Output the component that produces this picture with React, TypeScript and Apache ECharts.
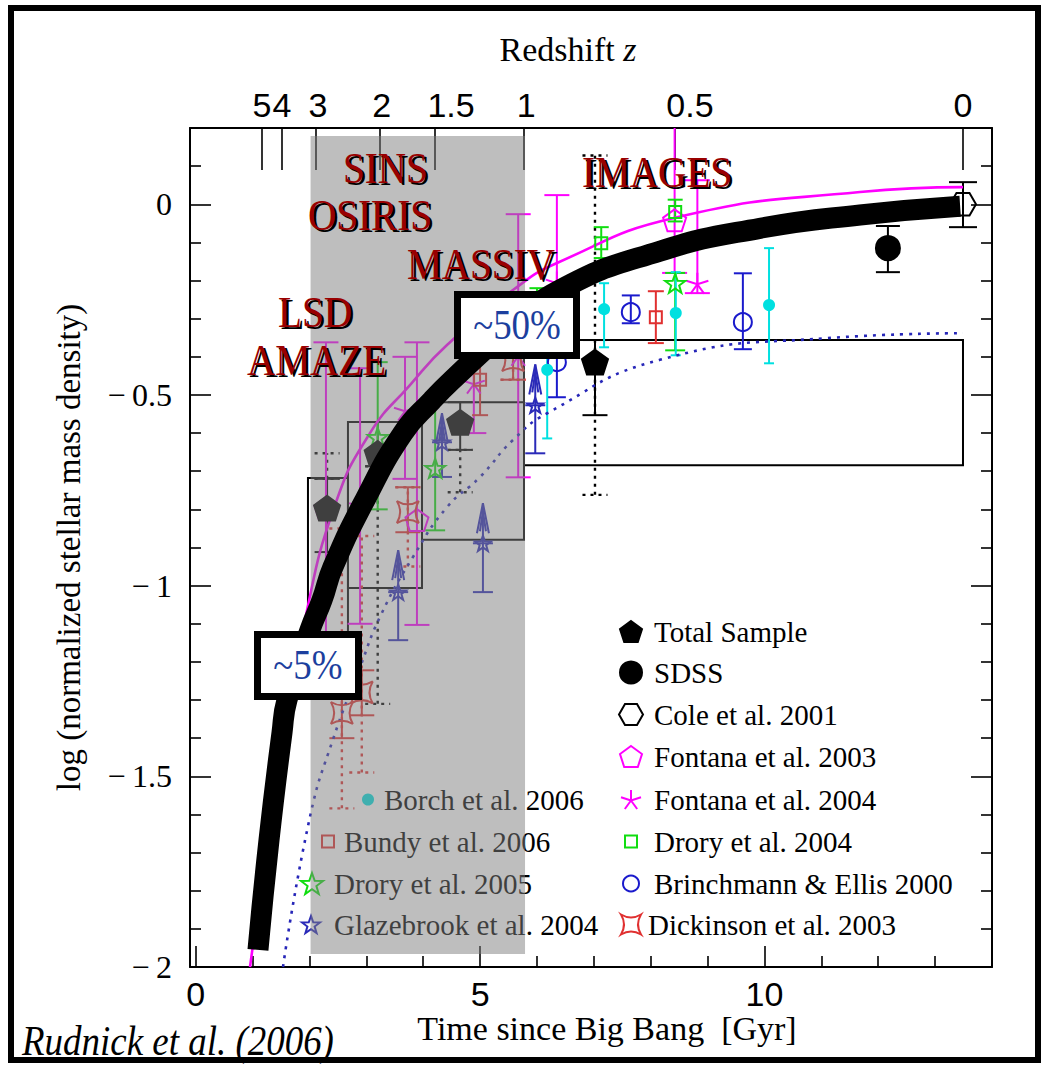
import { useEffect, useRef } from "react";
import * as echarts from "echarts";

// ---- axis ranges and ticks ----
const TIME_MIN = -0.1;
const TIME_MAX = 14;
const LOG_MIN = -2;
const LOG_MAX = 0.2;

const timeMajorTicks = [0, 5, 10];
const timeMinorTicks = [1, 2, 3, 4, 6, 7, 8, 9, 11, 12, 13];
const logMajorTicks = [-2, -1.5, -1, -0.5, 0];
const logMinorTicks = [-1.9, -1.8, -1.7, -1.6, -1.4, -1.3, -1.2, -1.1, -0.9, -0.8, -0.7, -0.6, -0.4, -0.3, -0.2, -0.1, 0.1];

// redshift scale along the top (positions in Gyr since the Big Bang)
const redshiftTickTimes = [1.166, 1.517, 2.115, 3.24, 4.21, 5.77, 8.43, 13.49];
const redshiftLabelTimes = [1.166, 1.517, 2.15, 3.27, 4.49, 5.81, 8.69, 13.49];
const redshiftLabels = ["5", "4", "3", "2", "1.5", "1", "0.5", "0"];

// ---- total sample ----
const totalTime = [2.31, 3.2, 4.65, 7.02];
const totalLogRho = [-0.797, -0.653, -0.572, -0.414];
const totalErrLo = [-0.912, -0.687, -0.644, -0.553];
const totalErrHi = [-0.72, -0.571, -0.519, -0.356];
const totalSysLo = [-0.72, -1.31, -0.755, -0.762];
const totalSysHi = [-0.653, -0.687, -0.644, 0.128];

// time bins of the total sample
const binStart = [1.974, 2.677, 3.979, 5.772];
const binEnd = [2.677, 3.979, 5.772, 13.49];
const binLo = [-1.21, -1.006, -0.88, -0.684];
const binHi = [-0.718, -0.571, -0.519, -0.356];

// ---- literature ----
const sdssTime = [12.17];
const sdssLogRho = [-0.115];
const sdssLo = [-0.178];
const sdssHi = [-0.057];

const coleTime = [13.49];
const coleLogRho = [0];
const coleLo = [-0.06];
const coleHi = [0.058];

const fontana03Time = [2.29, 3.89, 8.42];
const fontana03LogRho = [-0.797, -0.828, -0.042];
const fontana03Lo = [-1.25, -1.103, -0.18];
const fontana03Hi = [-0.362, -0.362, 0.45];

const fontana04Time = [2.89, 3.68, 4.89, 5.67, 6.35, 8.82];
const fontana04LogRho = [-0.79, -0.54, -0.469, -0.396, -0.204, -0.207];
const fontana04Lo = [-1.1, -0.72, -0.6, -0.716, -0.225, -0.233];
const fontana04Hi = [-0.43, -0.4, -0.3, -0.026, 0.024, 0.063];

const drory04Time = [6.0, 7.13, 8.43];
const drory04LogRho = [-0.27, -0.102, -0.02];
const drory04Lo = [-0.33, -0.141, -0.045];
const drory04Hi = [-0.22, -0.06, 0.012];

const drory05Time = [3.2, 4.21, 8.43];
const drory05LogRho = [-0.611, -0.692, -0.207];
const drory05Lo = [-0.8, -0.855, -0.383];
const drory05Hi = [-0.414, -0.505, -0.18];

const brinchmannTime = [6.35, 7.65, 9.62];
const brinchmannLogRho = [-0.414, -0.283, -0.309];
const brinchmannLo = [-0.506, -0.312, -0.38];
const brinchmannHi = [-0.33, -0.239, -0.181];

const bundyTime = [5.0, 8.09];
const bundyLogRho = [-0.46, -0.296];
const bundyLo = [-0.553, -0.364];
const bundyHi = [-0.37, -0.228];

const borchTime = [6.18, 7.18, 8.44, 10.08];
const borchLogRho = [-0.434, -0.275, -0.285, -0.264];
const borchLo = [-0.614, -0.375, -0.396, -0.417];
const borchHi = [-0.36, -0.207, -0.178, -0.115];

const glazebrookTime = [3.56, 4.33, 5.05, 5.97];
const glazebrookLogRho = [-1.017, -0.624, -0.889, -0.527];
const glazebrookLo = [-1.143, -0.715, -1.017, -0.653];
const glazebrookArrowTip = [-0.907, -0.548, -0.784, -0.42];

const dickinsonTime = [2.57, 2.92, 3.73, 5.58];
const dickinsonLogRho = [-1.334, -1.28, -0.807, -0.409];
const dickinsonLo = [-1.4, -1.34, -0.86, -0.46];
const dickinsonHi = [-1.28, -1.222, -0.742, -0.36];
const dickinsonSysLo = [-1.584, -1.49, -0.95, -0.46];
const dickinsonSysHi = [-0.85, -0.87, -0.742, -0.36];

// ---- model curves ----
const growthTime = [1.095, 1.289, 1.517, 1.605, 2.01, 2.22, 2.414, 2.977, 3.644, 4.155, 4.507, 5.4, 6.4, 8.16, 9.92, 11.68, 13.44];
const growthLogRho = [-1.955, -1.667, -1.386, -1.3, -1.116, -1.038, -0.951, -0.775, -0.6, -0.514, -0.461, -0.34, -0.225, -0.123, -0.063, -0.028, -0.005];

const fontanaModelTime = [0.955, 1.271, 1.57, 1.921, 2.449, 3.064, 3.767, 4.418, 5.578, 6.352, 8.462, 11.68, 13.49];
const fontanaModelLogRho = [-2.0, -1.667, -1.391, -1.09, -0.789, -0.6, -0.474, -0.369, -0.225, -0.154, -0.034, 0.032, 0.045];

const dottedModelTime = [1.535, 2.01, 2.41, 2.89, 3.24, 3.82, 4.42, 5.0, 5.58, 6.18, 8.16, 11.1, 13.49];
const dottedModelLogRho = [-2.0, -1.606, -1.405, -1.214, -1.082, -0.925, -0.794, -0.715, -0.618, -0.548, -0.408, -0.351, -0.338];

// shaded epoch covered by the IFU surveys
const shadedEpoch = [2.02, 5.79, -1.966, 0.179];

// ---- marker shapes ----
const PENTAGON = "path://M0,-10 L9.51,-3.09 L5.88,8.09 L-5.88,8.09 L-9.51,-3.09 Z";
const HEXAGON = "path://M-10,0 L-5,-8.66 L5,-8.66 L10,0 L5,8.66 L-5,8.66 Z";
const STAR = "path://M0,-10 L2.351,-3.236 L9.511,-3.09 L3.804,1.236 L5.878,8.09 L0,4 L-5.878,8.09 L-3.804,1.236 L-9.511,-3.09 L-2.351,-3.236 Z";
const ASTERISK = "path://M0,0 L0,-10 M0,0 L9.51,-3.09 M0,0 L5.88,8.09 M0,0 L-5.88,8.09 M0,0 L-9.51,-3.09";
const CUSP_SQUARE = "path://M-10,-10 Q0,-4 10,-10 Q4,0 10,10 Q0,4 -10,10 Q-4,0 -10,-10 Z";

const OPEN = "rgba(0,0,0,0)";
const MAGENTA = "#ff00ff";
const GREEN = "#11dd11";
const BLUE = "#1a1acc";
const RED = "#e03030";
const CYAN = "#00e0e0";

const SERIF = "'Liberation Serif', 'Times New Roman', serif";
const TICK_FONT = "'Liberation Sans', Arial, sans-serif";

const pairs = (xs: number[], ys: number[]) => xs.map((x, i) => [x, ys[i]]);
const triples = (xs: number[], a: number[], b: number[]) => xs.map((x, i) => [x, a[i], b[i]]);

function errorBars(id: string, data: number[][], color: string, cap: number, dashed = false, z = 2) {
  return {
    type: "custom",
    id,
    name: id,
    z,
    clip: true,
    silent: true,
    data,
    encode: { x: 0, y: [1, 2] },
    renderItem: (_p: any, api: any) => {
      const lo = api.coord([api.value(0), api.value(1)]);
      const hi = api.coord([api.value(0), api.value(2)]);
      const h = cap / 2;
      const style: any = { stroke: color, lineWidth: dashed ? 2.4 : 2, fill: null };
      if (dashed) style.lineDash = [3, 5];
      return {
        type: "group",
        children: [
          { type: "line", shape: { x1: lo[0], y1: lo[1], x2: hi[0], y2: hi[1] }, style },
          { type: "line", shape: { x1: lo[0] - h, y1: lo[1], x2: lo[0] + h, y2: lo[1] }, style },
          { type: "line", shape: { x1: hi[0] - h, y1: hi[1], x2: hi[0] + h, y2: hi[1] }, style },
        ],
      };
    },
  };
}

function markers(name: string, data: number[][], symbol: string, size: number, fill: string, stroke: string, z = 3) {
  return {
    type: "scatter",
    name,
    data,
    symbol,
    symbolSize: size,
    symbolKeepAspect: true,
    z,
    silent: true,
    itemStyle: { color: fill, borderColor: stroke, borderWidth: 2, opacity: 1 },
  };
}

// legend placement (icon centre, text start, row centre, icon size)
const legendLayout = [
  { name: "Total Sample", cx: 630, tx: 653, cy: 632, size: 22 },
  { name: "SDSS", cx: 630, tx: 653, cy: 673, size: 22 },
  { name: "Cole et al. 2001", cx: 630, tx: 653, cy: 715, size: 24 },
  { name: "Fontana et al. 2003", cx: 630, tx: 653, cy: 757, size: 22 },
  { name: "Fontana et al. 2004", cx: 630, tx: 653, cy: 800, size: 20 },
  { name: "Drory et al. 2004", cx: 630, tx: 653, cy: 842, size: 12 },
  { name: "Brinchmann & Ellis 2000", cx: 630, tx: 653, cy: 884, size: 16 },
  { name: "Dickinson et al. 2003", cx: 630, tx: 647, cy: 925, size: 20 },
  { name: "Borch et al. 2006", cx: 367, tx: 383, cy: 800, size: 10 },
  { name: "Bundy et al. 2006", cx: 327, tx: 343, cy: 842, size: 12 },
  { name: "Drory et al. 2005", cx: 311, tx: 333, cy: 884, size: 22 },
  { name: "Glazebrook et al. 2004", cx: 310, tx: 333, cy: 925, size: 18 },
];

const surveyLabels = [
  { text: "SINS", x: 343, y: 168 },
  { text: "OSIRIS", x: 308, y: 215 },
  { text: "MASSIV", x: 407, y: 264 },
  { text: "LSD", x: 278, y: 312 },
  { text: "AMAZE", x: 247, y: 360 },
  { text: "IMAGES", x: 582, y: 172 },
];

const fractionBoxes = [
  { text: "~5%", x: 257.5, y: 634.5, w: 101, h: 62 },
  { text: "~50%", x: 457.5, y: 294.5, w: 119, h: 61 },
];

function buildOption(): any {
  const axisLine = { show: true, onZero: false, lineStyle: { color: "#000", width: 2 } };
  const hiddenLine = { show: false, onZero: false };
  const tickStyle = { color: "#000", width: 1.6 };
  const common = { type: "value", min: TIME_MIN, max: TIME_MAX, splitLine: { show: false }, gridIndex: 0 };
  const commonY = { type: "value", min: LOG_MIN, max: LOG_MAX, splitLine: { show: false }, gridIndex: 0 };

  const xAxis = [
    {
      ...common,
      position: "bottom",
      axisLine,
      axisTick: { show: true, inside: true, length: 21, customValues: timeMajorTicks, lineStyle: tickStyle },
      axisLabel: { show: true, customValues: timeMajorTicks, margin: 10, fontFamily: TICK_FONT, fontSize: 34, color: "#000" },
      name: "Time since Big Bang\u00a0 [Gyr]",
      nameLocation: "middle",
      nameGap: 44,
      nameMoveOverlap: false,
      nameTextStyle: { fontFamily: SERIF, fontSize: 34, color: "#000", padding: [0, 0, 0, 32] },
    },
    {
      ...common,
      position: "bottom",
      axisLine: hiddenLine,
      axisTick: { show: true, inside: true, length: 11, customValues: timeMinorTicks, lineStyle: tickStyle },
      axisLabel: { show: false },
    },
    {
      ...common,
      position: "top",
      axisLine,
      axisTick: { show: true, inside: true, length: 42, customValues: redshiftTickTimes, lineStyle: tickStyle },
      axisLabel: {
        show: true,
        customValues: redshiftLabelTimes,
        margin: 6,
        fontFamily: TICK_FONT,
        fontSize: 34,
        color: "#000",
        formatter: (v: number) => {
          let best = 0;
          redshiftLabelTimes.forEach((t, i) => {
            if (Math.abs(t - v) < Math.abs(redshiftLabelTimes[best] - v)) best = i;
          });
          return redshiftLabels[best];
        },
      },
      name: "{r|Redshift }{i|z}",
      nameLocation: "middle",
      nameGap: 62,
      nameMoveOverlap: false,
      nameTextStyle: {
        padding: [0, 46, 0, 0],
        rich: {
          r: { fontFamily: SERIF, fontSize: 34, color: "#000" },
          i: { fontFamily: SERIF, fontSize: 34, fontStyle: "italic", color: "#000" },
        },
      },
    },
  ];

  const yAxis = [
    {
      ...commonY,
      position: "left",
      axisLine,
      axisTick: { show: true, inside: true, length: 21, customValues: logMajorTicks, lineStyle: tickStyle },
      axisLabel: {
        show: true,
        customValues: logMajorTicks,
        margin: 18,
        fontFamily: SERIF,
        fontSize: 32,
        color: "#000",
        formatter: (v: number) => (v === 0 ? "0" : "\u2212\u2009" + String(Math.abs(v))),
      },
      name: "log (normalized stellar mass density)",
      nameLocation: "middle",
      nameGap: 105,
      nameMoveOverlap: false,
      nameTextStyle: { fontFamily: SERIF, fontSize: 33, color: "#000" },
    },
    {
      ...commonY,
      position: "left",
      axisLine: hiddenLine,
      axisTick: { show: true, inside: true, length: 11, customValues: logMinorTicks, lineStyle: tickStyle },
      axisLabel: { show: false },
    },
    {
      ...commonY,
      position: "right",
      axisLine,
      axisTick: { show: true, inside: true, length: 21, customValues: logMajorTicks, lineStyle: tickStyle },
      axisLabel: { show: false },
    },
    {
      ...commonY,
      position: "right",
      axisLine: hiddenLine,
      axisTick: { show: true, inside: true, length: 11, customValues: logMinorTicks, lineStyle: tickStyle },
      axisLabel: { show: false },
    },
  ];

  const series: any[] = [
    // time bins
    {
      type: "custom",
      name: "bins",
      z: 2,
      silent: true,
      clip: true,
      data: binStart.map((t, i) => [t, binEnd[i], binLo[i], binHi[i]]),
      encode: { x: [0, 1], y: [2, 3] },
      renderItem: (_p: any, api: any) => {
        const a = api.coord([api.value(0), api.value(3)]);
        const b = api.coord([api.value(1), api.value(2)]);
        return {
          type: "rect",
          shape: { x: a[0], y: a[1], width: b[0] - a[0], height: b[1] - a[1] },
          style: { fill: null, stroke: "#000", lineWidth: 2 },
        };
      },
    },
    // model curves
    {
      type: "line",
      name: "dotted model",
      data: pairs(dottedModelTime, dottedModelLogRho),
      smooth: 0.5,
      symbol: "none",
      silent: true,
      z: 2,
      lineStyle: { color: "#2626b8", width: 2.6, type: [3, 6] },
    },
    {
      type: "line",
      name: "Fontana model",
      data: pairs(fontanaModelTime, fontanaModelLogRho),
      smooth: 0.5,
      symbol: "none",
      silent: true,
      z: 2,
      lineStyle: { color: MAGENTA, width: 2.6 },
    },
    // error bars
    errorBars("err-total-sys", triples(totalTime, totalSysLo, totalSysHi), "#000", 25, true),
    errorBars("err-total", triples(totalTime, totalErrLo, totalErrHi), "#000", 25),
    errorBars("err-sdss", triples(sdssTime, sdssLo, sdssHi), "#000", 24),
    errorBars("err-cole", triples(coleTime, coleLo, coleHi), "#000", 28),
    errorBars("err-f03", triples(fontana03Time, fontana03Lo, fontana03Hi), MAGENTA, 25),
    errorBars("err-f04", triples(fontana04Time, fontana04Lo, fontana04Hi), MAGENTA, 25),
    errorBars("err-d04", triples(drory04Time, drory04Lo, drory04Hi), GREEN, 15),
    errorBars("err-d05", triples(drory05Time, drory05Lo, drory05Hi), GREEN, 20),
    errorBars("err-be", triples(brinchmannTime, brinchmannLo, brinchmannHi), BLUE, 18),
    errorBars("err-bundy", triples(bundyTime, bundyLo, bundyHi), RED, 16),
    errorBars("err-borch", triples(borchTime, borchLo, borchHi), CYAN, 10),
    errorBars("err-dick-sys", triples(dickinsonTime, dickinsonSysLo, dickinsonSysHi), RED, 25, true),
    errorBars("err-dick", triples(dickinsonTime, dickinsonLo, dickinsonHi), RED, 25),
    errorBars("err-glaze", triples(glazebrookTime, glazebrookLo, glazebrookLogRho), "#2a2ab8", 20),
    // Glazebrook lower limits
    {
      type: "custom",
      name: "glaze-limits",
      z: 2,
      silent: true,
      clip: true,
      data: triples(glazebrookTime, glazebrookLogRho, glazebrookArrowTip),
      encode: { x: 0, y: [1, 2] },
      renderItem: (_p: any, api: any) => {
        const p = api.coord([api.value(0), api.value(1)]);
        const tip = api.coord([api.value(0), api.value(2)]);
        const style = { stroke: "#2a2ab8", lineWidth: 2, fill: null };
        return {
          type: "group",
          children: [
            { type: "line", shape: { x1: p[0], y1: p[1], x2: tip[0], y2: tip[1] }, style },
            { type: "polyline", shape: { points: [[tip[0] - 6, tip[1] + 30], [tip[0], tip[1]], [tip[0] + 6, tip[1] + 30]] }, style },
            { type: "polyline", shape: { points: [[tip[0] - 3, tip[1] + 28], [tip[0], tip[1] + 8], [tip[0] + 3, tip[1] + 28]] }, style },
          ],
        };
      },
    },
    // markers
    markers("Total Sample", pairs(totalTime, totalLogRho), PENTAGON, 26, "#000", "#000", 4),
    markers("SDSS", pairs(sdssTime, sdssLogRho), "circle", 24, "#000", "#000"),
    markers("Cole et al. 2001", pairs(coleTime, coleLogRho), HEXAGON, 26, OPEN, "#000"),
    markers("Fontana et al. 2003", pairs(fontana03Time, fontana03LogRho), PENTAGON, 23, OPEN, MAGENTA),
    markers("Fontana et al. 2004", pairs(fontana04Time, fontana04LogRho), ASTERISK, 22, OPEN, MAGENTA),
    markers("Drory et al. 2004", pairs(drory04Time, drory04LogRho), "rect", 12, OPEN, GREEN),
    markers("Brinchmann & Ellis 2000", pairs(brinchmannTime, brinchmannLogRho), "circle", 18, OPEN, BLUE),
    markers("Dickinson et al. 2003", pairs(dickinsonTime, dickinsonLogRho), CUSP_SQUARE, 22, OPEN, RED),
    markers("Borch et al. 2006", pairs(borchTime, borchLogRho), "circle", 10, CYAN, CYAN),
    markers("Bundy et al. 2006", pairs(bundyTime, bundyLogRho), "rect", 12, OPEN, RED),
    markers("Drory et al. 2005", pairs(drory05Time, drory05LogRho), STAR, 20, OPEN, GREEN),
    markers("Glazebrook et al. 2004", pairs(glazebrookTime, glazebrookLogRho), STAR, 16, OPEN, "#2a2ab8"),
    // translucent band over the IFU-survey epoch
    {
      type: "custom",
      name: "epoch band",
      z: 5,
      silent: true,
      data: [shadedEpoch],
      encode: { x: [0, 1], y: [2, 3] },
      renderItem: (_p: any, api: any) => {
        const a = api.coord([api.value(0), api.value(3)]);
        const b = api.coord([api.value(1), api.value(2)]);
        return {
          type: "rect",
          shape: { x: a[0], y: a[1], width: b[0] - a[0], height: b[1] - a[1] },
          style: { fill: "rgba(126,126,126,0.5)" },
        };
      },
    },
    // mass assembly track
    {
      type: "line",
      name: "assembly track",
      data: pairs(growthTime, growthLogRho),
      smooth: 0.5,
      symbol: "none",
      silent: true,
      z: 6,
      lineStyle: { color: "#000", width: 21, cap: "butt", join: "round" },
    },
  ];

  const legend = legendLayout.map((r) => ({
    data: [r.name],
    left: r.cx - r.size / 2,
    top: r.cy - 15,
    orient: "horizontal",
    padding: 0,
    itemWidth: r.size,
    itemHeight: r.size,
    selectedMode: false,
    z: 3,
    textStyle: {
      fontFamily: SERIF,
      fontSize: 29,
      color: "#000",
      lineHeight: 26,
      padding: [0, 0, 0, r.tx - (r.cx + r.size / 2 + 5)],
    },
  }));

  const graphic: any[] = [];
  surveyLabels.forEach((l) => {
    const base = { type: "text", scaleX: 0.89, silent: true };
    graphic.push({
      ...base,
      x: l.x + 2.5,
      y: l.y + 2.5,
      z: 20,
      style: { text: l.text, fill: "#000", fontFamily: SERIF, fontSize: 44, textAlign: "left", textVerticalAlign: "middle" },
    });
    graphic.push({
      ...base,
      x: l.x,
      y: l.y,
      z: 21,
      style: { text: l.text, fill: "#990000", fontFamily: SERIF, fontSize: 44, textAlign: "left", textVerticalAlign: "middle" },
    });
  });
  fractionBoxes.forEach((b) => {
    graphic.push({
      type: "rect",
      silent: true,
      z: 30,
      shape: { x: b.x, y: b.y, width: b.w, height: b.h },
      style: { fill: "#fff", stroke: "#000", lineWidth: 7 },
    });
    graphic.push({
      type: "text",
      silent: true,
      z: 31,
      x: b.x + b.w / 2,
      y: b.y + b.h / 2,
      scaleX: 0.88,
      style: { text: b.text, fill: "#1c3f9e", fontFamily: SERIF, fontSize: 42, textAlign: "center", textVerticalAlign: "middle" },
    });
  });
  graphic.push({
    type: "text",
    silent: true,
    z: 31,
    x: 22,
    y: 1041,
    scaleX: 0.88,
    style: { text: "Rudnick et al. (2006)", fill: "#000", fontFamily: SERIF, fontStyle: "italic", fontSize: 42, textAlign: "left", textVerticalAlign: "middle" },
  });
  graphic.push({
    type: "rect",
    silent: true,
    z: 40,
    shape: { x: 11, y: 8, width: 1027, height: 1052 },
    style: { fill: null, stroke: "#000", lineWidth: 6 },
  });

  return {
    animation: false,
    backgroundColor: "#fff",
    grid: { left: 190, top: 128, width: 802, height: 839, containLabel: false, outerBoundsMode: "none" },
    xAxis,
    yAxis,
    legend,
    series,
    graphic: { elements: graphic },
  };
}

export default function App() {
  const ref = useRef<HTMLDivElement>(null);
  useEffect(() => {
    if (!ref.current) return;
    const chart = echarts.init(ref.current, null, { renderer: "svg" });
    chart.setOption(buildOption());
    return () => chart.dispose();
  }, []);
  return (
    <div
      ref={ref}
      style={{ position: "absolute", left: 0, top: 0, width: 1041, height: 1067, background: "#fff" }}
    />
  );
}
